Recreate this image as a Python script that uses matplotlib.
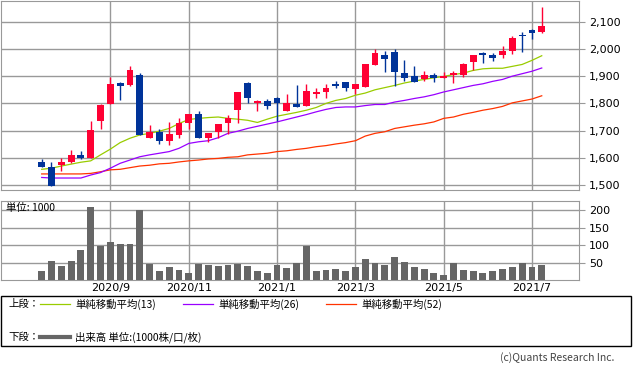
import numpy as np
import pandas as pd
import matplotlib
matplotlib.use("Agg")
import matplotlib.pyplot as plt
from matplotlib.lines import Line2D
from matplotlib.ticker import FuncFormatter

plt.rcParams['font.family'] = ['DejaVu Sans', 'Noto Sans CJK JP']

# ===============================
# DATA (weekly candles, 2020/7 - 2021/7)
# ===============================
dates = pd.date_range("2020-07-20", periods=52, freq="W-MON")

opens = [1586, 1566, 1574, 1583, 1611, 1601, 1736, 1797, 1876, 1866,
         1906, 1674, 1696, 1663, 1684, 1727, 1760, 1674, 1696, 1727,
         1775, 1876, 1800, 1808, 1821, 1772, 1797, 1791, 1833, 1842,
         1870, 1878, 1852, 1860, 1942, 1979, 1990, 1913, 1899, 1891,
         1906, 1893, 1903, 1906, 1951, 1984, 1979, 1976, 1992, 2051,
         2071, 2061]
highs = [1596, 1584, 1599, 1629, 1625, 1735, 1799, 1897, 1877, 1939,
         1911, 1720, 1706, 1732, 1747, 1761, 1771, 1692, 1725, 1757,
         1843, 1877, 1814, 1815, 1822, 1833, 1866, 1872, 1858, 1870,
         1882, 1879, 1873, 1944, 1998, 1992, 2000, 1958, 1939, 1918,
         1911, 1915, 1920, 1950, 1977, 1988, 1984, 2012, 2049, 2061,
         2072, 2155]
lows = [1565, 1497, 1553, 1582, 1597, 1600, 1706, 1796, 1811, 1863,
        1684, 1674, 1651, 1647, 1672, 1706, 1674, 1659, 1672, 1687,
        1729, 1802, 1772, 1779, 1735, 1771, 1786, 1790, 1821, 1821,
        1858, 1846, 1836, 1859, 1941, 1915, 1863, 1884, 1877, 1882,
        1878, 1892, 1876, 1897, 1921, 1948, 1955, 1966, 1980, 1988,
        2037, 2060]
closes = [1568, 1497, 1586, 1611, 1601, 1702, 1793, 1873, 1864, 1921,
          1684, 1694, 1663, 1687, 1727, 1760, 1674, 1691, 1724, 1745,
          1842, 1818, 1809, 1791, 1800, 1802, 1787, 1844, 1842, 1858,
          1864, 1858, 1870, 1943, 1986, 1962, 1915, 1893, 1878, 1903,
          1894, 1900, 1911, 1943, 1976, 1978, 1965, 1994, 2040, 2047,
          2057, 2085]

ma13 = [1558, 1562, 1570, 1577, 1584, 1589, 1611, 1632, 1656, 1672,
        1684, 1690, 1698, 1708, 1726, 1741, 1745, 1748, 1750, 1745,
        1742, 1738, 1730, 1742, 1753, 1760, 1767, 1775, 1785, 1800,
        1811, 1818, 1830, 1838, 1850, 1858, 1866, 1875, 1882, 1888,
        1894, 1899, 1906, 1911, 1921, 1927, 1929, 1929, 1936, 1943,
        1958, 1975]
ma26 = [1528, 1526, 1526, 1526, 1526, 1537, 1546, 1562, 1580, 1592,
        1604, 1611, 1617, 1623, 1635, 1653, 1659, 1663, 1674, 1690,
        1698, 1708, 1716, 1724, 1732, 1741, 1750, 1759, 1769, 1778,
        1785, 1787, 1787, 1792, 1796, 1796, 1805, 1811, 1818, 1824,
        1832, 1842, 1850, 1858, 1866, 1872, 1881, 1888, 1900, 1909,
        1918, 1930]
ma52 = [1541, 1541, 1541, 1541, 1541, 1543, 1549, 1556, 1558, 1564,
        1570, 1573, 1578, 1580, 1585, 1589, 1592, 1596, 1598, 1602,
        1604, 1611, 1614, 1617, 1623, 1626, 1631, 1635, 1641, 1645,
        1651, 1656, 1663, 1680, 1690, 1696, 1708, 1714, 1720, 1725,
        1732, 1745, 1750, 1760, 1767, 1775, 1781, 1789, 1802, 1809,
        1816, 1828]

volume = [27, 54, 39, 54, 87, 211, 99, 110, 104, 104,
          200, 47, 27, 37, 30, 21, 47, 42, 39, 42,
          47, 39, 27, 19, 42, 34, 50, 99, 25, 30,
          33, 27, 37, 59, 48, 42, 67, 53, 37, 33,
          21, 14, 50, 30, 25, 21, 25, 33, 37, 48,
          37, 42]

price_ticks = [1500, 1600, 1700, 1800, 1900, 2000, 2100]
vol_ticks = [50, 100, 150, 200]

# ===============================
# STYLE
# ===============================
UP = "#ff0033"
DOWN = "#003399"
GRID = "#999999"
C13, C26, C52 = "#99cc00", "#9900ff", "#ff3300"
VOLC = "#666666"
W, H = 633, 371

fig = plt.figure(figsize=(W / 100, H / 100), dpi=100)

def px_axes(x0, y0, x1, y1):
    return fig.add_axes([x0 / W, 1 - y1 / H, (x1 - x0) / W, (y1 - y0) / H])

ax = px_axes(1, 1, 579, 190)
axv = px_axes(1, 201, 579, 280)

x = np.arange(len(dates))
xlim = (-4.15, 54.8)

# month ticks: first week of odd months
tick_idx = [i for i, d in enumerate(dates) if d.day <= 7 and d.month % 2 == 1]
tick_lab = [f"{dates[i].year}/{dates[i].month}" for i in tick_idx]

# ===============================
# PRICE PANEL
# ===============================
for i in x:
    o, h, l, c = opens[i], highs[i], lows[i], closes[i]
    col = UP if c >= o else DOWN
    ax.vlines(i, l, h, color=col, linewidth=1.0, zorder=3)
    ax.bar(i, max(abs(c - o), 2), bottom=min(o, c), width=0.7,
           color=col, linewidth=0, zorder=4)

ax.plot(x, ma52, color=C52, linewidth=0.9, zorder=2)
ax.plot(x, ma26, color=C26, linewidth=0.9, zorder=2)
ax.plot(x, ma13, color=C13, linewidth=0.9, zorder=2)

ax.set_xlim(*xlim)
ax.set_ylim(1482, 2176)
ax.set_yticks(price_ticks)
ax.yaxis.set_major_formatter(FuncFormatter(lambda v, p: f"{int(v):,}"))
ax.yaxis.tick_right()
ax.set_xticks(tick_idx)
ax.set_xticklabels([])
ax.tick_params(axis="x", length=0)
ax.tick_params(axis="y", length=4, color=GRID, labelsize=8, pad=3)
ax.grid(True, color=GRID, linewidth=1)
ax.set_axisbelow(True)
for s in ax.spines.values():
    s.set_color(GRID)

# ===============================
# VOLUME PANEL
# ===============================
axv.bar(x, volume, width=0.7, color=VOLC, linewidth=0, zorder=3)
axv.set_xlim(*xlim)
axv.set_ylim(0, 227)
axv.set_yticks(vol_ticks)
axv.yaxis.tick_right()
axv.set_xticks(tick_idx)
axv.set_xticklabels(tick_lab)
axv.tick_params(axis="x", length=0, labelsize=8, pad=2)
axv.tick_params(axis="y", length=4, color=GRID, labelsize=8, pad=3)
axv.grid(True, color=GRID, linewidth=1)
axv.set_axisbelow(True)
for s in axv.spines.values():
    s.set_color(GRID)
axv.text(0.008, 0.97, "単位: 1000", transform=axv.transAxes, fontsize=7.5,
         va="top", ha="left", family=['Noto Sans CJK JP', 'DejaVu Sans'])

# ===============================
# LEGEND BOX
# ===============================
def fx(px):
    return px / W

def fy(py):
    return 1 - py / H

jp = ['Noto Sans CJK JP', 'DejaVu Sans']
box = plt.Rectangle((fx(1), fy(346)), fx(631) - fx(1), fy(296) - fy(346),
                    transform=fig.transFigure, fill=False, edgecolor="black",
                    linewidth=1)
fig.add_artist(box)

row1 = fy(304)
fig.text(fx(8), row1, "上段：", fontsize=7.5, va="center", family=jp)
for x0, col, lab in [(40, C13, "単純移動平均(13)"),
                     (183, C26, "単純移動平均(26)"),
                     (326, C52, "単純移動平均(52)")]:
    fig.add_artist(Line2D([fx(x0), fx(x0 + 30)], [row1, row1], color=col,
                          linewidth=0.9, transform=fig.transFigure))
    fig.text(fx(x0 + 35), row1, lab, fontsize=7.5, va="center", family=jp)

row2 = fy(337)
fig.text(fx(8), row2, "下段：", fontsize=7.5, va="center", family=jp)
fig.add_artist(Line2D([fx(40), fx(70)], [row2, row2], color=VOLC,
                      linewidth=3, transform=fig.transFigure))
fig.text(fx(75), row2, "出来高 単位:(1000株/口/枚)", fontsize=7.5,
         va="center", family=jp)

fig.text(fx(614), fy(358), "(c)Quants Research Inc.", fontsize=7.5,
         ha="right", va="center", color="#444444", family=jp)

fig.savefig("out.png", dpi=100)
